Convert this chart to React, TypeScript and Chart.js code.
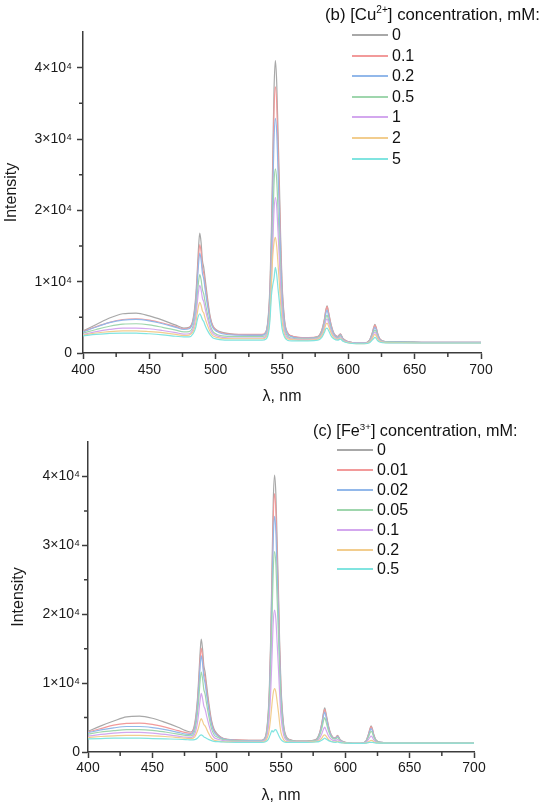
import React, { useEffect, useRef } from "react";
import { Chart, registerables } from "chart.js";

Chart.register(...registerables);

// ---------- data ----------
const wavelengths = [
  400, 410, 420, 430, 440, 450, 460, 470, 476, 480,
  483, 485, 486, 487, 488, 489, 490, 491, 492, 494,
  496, 498, 501, 505, 515, 525, 535, 538, 540, 541,
  542, 543, 544, 545, 546, 547, 548, 549, 550, 552,
  554, 557, 562, 570, 577, 580, 582, 583, 584, 585,
  587, 589, 592, 594, 596, 600, 606, 612, 616, 618,
  619, 620, 621, 622, 624, 628, 640, 660, 680, 700,
];

const cuLabels = ["0", "0.1", "0.2", "0.5", "1", "2", "5"];

const cu0 = [
  3100, 4000, 4900, 5500, 5600, 5200, 4600, 3900, 3500, 3600,
  4800, 8000, 11000, 14500, 16800, 15500, 13000, 12000, 10500, 7500,
  5000, 3800, 3200, 2900, 2600, 2500, 2500, 3000, 6000, 10000,
  17000, 27000, 37000, 41000, 38000, 31000, 24000, 16000, 10000, 4500,
  2900, 2400, 2200, 2100, 2300, 3200, 4800, 6000, 6600, 5800,
  4000, 2800, 2300, 2700, 2000, 1600, 1400, 1400, 1800, 2800,
  3500, 4000, 3600, 2800, 1900, 1600, 1550, 1500, 1500, 1500,
];
const cu01 = [
  3000, 3700, 4300, 4700, 4800, 4600, 4200, 3700, 3400, 3500,
  4600, 7400, 10200, 13200, 15200, 14200, 12000, 11200, 9700, 7000,
  4800, 3700, 3100, 2800, 2600, 2600, 2600, 3000, 5600, 9200,
  15500, 24500, 34000, 37300, 35000, 28500, 22000, 14800, 9400, 4300,
  2900, 2400, 2200, 2150, 2300, 3200, 4700, 5900, 6500, 5700,
  3900, 2800, 2300, 2650, 2000, 1600, 1400, 1400, 1800, 2750,
  3400, 3900, 3500, 2750, 1900, 1600, 1550, 1500, 1500, 1500,
];
const cu02 = [
  2950, 3650, 4250, 4600, 4700, 4500, 4100, 3600, 3300, 3400,
  4400, 7000, 9500, 12200, 14000, 13100, 11200, 10400, 9000, 6500,
  4500, 3500, 3000, 2700, 2500, 2500, 2500, 2900, 5200, 8400,
  14000, 22000, 30000, 32900, 31000, 25500, 19500, 13200, 8400, 4000,
  2700, 2300, 2100, 2100, 2250, 3000, 4400, 5500, 6000, 5300,
  3700, 2700, 2200, 2550, 1950, 1550, 1400, 1400, 1750, 2600,
  3200, 3600, 3300, 2600, 1850, 1600, 1550, 1500, 1500, 1500,
];
const cu05 = [
  2800, 3300, 3750, 4050, 4100, 3950, 3600, 3200, 2950, 3000,
  3800, 5800, 7800, 9800, 11000, 10300, 8900, 8300, 7200, 5300,
  3800, 3000, 2600, 2400, 2300, 2300, 2300, 2600, 4400, 7000,
  11500, 17500, 23800, 25800, 24300, 20000, 15500, 10500, 6800, 3400,
  2400, 2100, 2000, 2000, 2150, 2800, 4000, 4900, 5300, 4700,
  3300, 2500, 2100, 2400, 1850, 1500, 1350, 1350, 1650, 2400,
  2900, 3200, 2950, 2350, 1750, 1550, 1500, 1450, 1450, 1450,
];
const cu1 = [
  2600, 3000, 3300, 3500, 3500, 3400, 3150, 2850, 2650, 2700,
  3400, 5100, 6800, 8500, 9500, 8900, 7700, 7200, 6300, 4700,
  3400, 2700, 2400, 2200, 2100, 2100, 2100, 2400, 3900, 6200,
  10000, 15000, 20000, 21800, 20500, 17000, 13200, 9000, 5900, 3000,
  2200, 2000, 1900, 1900, 2050, 2600, 3700, 4500, 4800, 4300,
  3100, 2400, 2000, 2250, 1800, 1500, 1350, 1350, 1600, 2200,
  2700, 2900, 2700, 2200, 1700, 1500, 1450, 1450, 1450, 1450,
];
const cu2 = [
  2500, 2800, 3000, 3100, 3100, 3000, 2850, 2600, 2450, 2500,
  3000, 4200, 5400, 6500, 7100, 6700, 5900, 5600, 4900, 3800,
  2900, 2400, 2200, 2050, 2000, 2000, 2000, 2200, 3400, 5500,
  9500, 13500, 15500, 16200, 15000, 12500, 9800, 6800, 4500, 2500,
  2000, 1900, 1800, 1800, 1950, 2400, 3300, 4000, 4200, 3800,
  2800, 2200, 1900, 2100, 1700, 1450, 1300, 1300, 1550, 2000,
  2400, 2600, 2400, 2000, 1600, 1450, 1450, 1400, 1400, 1400,
];
const cu5 = [
  2400, 2600, 2750, 2800, 2800, 2700, 2550, 2350, 2250, 2250,
  2700, 3600, 4500, 5200, 5500, 5200, 4700, 4400, 3900, 3100,
  2500, 2100, 1950, 1850, 1800, 1800, 1800, 1950, 3000, 4800,
  8000, 9500, 10500, 12000, 11000, 9000, 7200, 5200, 3500, 2200,
  1800, 1700, 1700, 1700, 1800, 2200, 2900, 3400, 3500, 3200,
  2400, 2000, 1800, 1950, 1650, 1400, 1300, 1300, 1450, 1800,
  2000, 2200, 2050, 1750, 1500, 1400, 1400, 1400, 1400, 1400,
];

const feLabels = ["0", "0.01", "0.02", "0.05", "0.1", "0.2", "0.5"];

const fe0 = [
  3000, 3800, 4500, 5100, 5200, 4900, 4300, 3600, 3100, 2900,
  4200, 7500, 10500, 14000, 16400, 15000, 12600, 11600, 10000, 7000,
  4600, 3300, 2500, 2000, 1750, 1700, 1700, 2300, 5500, 9500,
  16500, 26500, 36500, 40200, 37500, 30500, 23500, 15500, 9500, 4000,
  2300, 1800, 1600, 1600, 1800, 2800, 4500, 5700, 6400, 5600,
  3700, 2500, 2000, 2400, 1800, 1400, 1250, 1250, 1600, 2600,
  3300, 3800, 3400, 2600, 1700, 1400, 1350, 1300, 1300, 1300,
];
const fe001 = [
  2900, 3400, 3900, 4150, 4200, 4000, 3600, 3100, 2800, 2700,
  3900, 7000, 9700, 12900, 15100, 13900, 11700, 10800, 9300, 6500,
  4300, 3100, 2400, 1950, 1750, 1700, 1700, 2200, 5200, 8900,
  15400, 24700, 34000, 37500, 35000, 28500, 22000, 14500, 8900, 3800,
  2200, 1750, 1600, 1600, 1750, 2700, 4400, 5500, 6200, 5400,
  3600, 2450, 2000, 2350, 1750, 1400, 1250, 1250, 1600, 2550,
  3200, 3700, 3300, 2550, 1700, 1400, 1350, 1300, 1300, 1300,
];
const fe002 = [
  2800, 3200, 3500, 3700, 3700, 3550, 3250, 2850, 2600, 2550,
  3600, 6500, 9000, 12000, 14000, 12900, 10900, 10000, 8600, 6000,
  4000, 2900, 2300, 1900, 1700, 1650, 1650, 2100, 4800, 8200,
  14100, 22600, 31000, 34200, 32000, 26000, 20000, 13300, 8200, 3500,
  2100, 1700, 1550, 1550, 1700, 2600, 4100, 5200, 5800, 5100,
  3400, 2350, 1950, 2250, 1700, 1350, 1250, 1250, 1550, 2400,
  3000, 3400, 3100, 2400, 1650, 1400, 1350, 1300, 1300, 1300,
];
const fe005 = [
  2600, 2900, 3100, 3250, 3250, 3150, 2900, 2600, 2400, 2350,
  3100, 5500, 7500, 10000, 11600, 10700, 9100, 8400, 7200, 5100,
  3400, 2500, 2100, 1800, 1650, 1600, 1600, 2000, 4200, 7100,
  12000, 19300, 26500, 29100, 27300, 22200, 17100, 11400, 7000, 3100,
  1950, 1650, 1550, 1550, 1650, 2400, 3600, 4500, 5000, 4400,
  3000, 2200, 1850, 2100, 1650, 1350, 1250, 1250, 1500, 2200,
  2700, 3000, 2800, 2200, 1600, 1350, 1300, 1300, 1300, 1300,
];
const fe01 = [
  2300, 2550, 2750, 2850, 2850, 2750, 2550, 2300, 2150, 2100,
  2600, 4200, 5600, 7300, 8500, 7800, 6700, 6200, 5400, 3900,
  2700, 2100, 1850, 1650, 1550, 1550, 1550, 1850, 3300, 5300,
  8700, 13800, 18900, 20600, 19300, 15800, 12200, 8200, 5100, 2500,
  1750, 1550, 1500, 1500, 1550, 2000, 2800, 3300, 3600, 3200,
  2300, 1850, 1650, 1800, 1550, 1300, 1250, 1250, 1400, 1850,
  2100, 2300, 2150, 1800, 1450, 1300, 1300, 1300, 1300, 1300,
];
const fe02 = [
  2100, 2250, 2350, 2400, 2400, 2350, 2250, 2100, 2000, 1950,
  2200, 3000, 3600, 4400, 4850, 4500, 4000, 3800, 3400, 2600,
  2000, 1700, 1600, 1500, 1450, 1450, 1450, 1650, 2400, 3400,
  5000, 7000, 8600, 9200, 8700, 7300, 5800, 4100, 2800, 1800,
  1500, 1450, 1450, 1450, 1500, 1700, 2100, 2400, 2500, 2300,
  1800, 1550, 1450, 1550, 1400, 1300, 1250, 1250, 1300, 1500,
  1600, 1700, 1650, 1500, 1350, 1300, 1300, 1300, 1300, 1300,
];
const fe05 = [
  1900, 1950, 2000, 2000, 2000, 1950, 1900, 1850, 1800, 1750,
  1800, 2000, 2200, 2400, 2500, 2400, 2200, 2100, 2000, 1800,
  1650, 1550, 1500, 1450, 1400, 1400, 1400, 1500, 1800, 2200,
  2700, 3100, 2900, 3200, 3250, 2900, 2500, 2100, 1800, 1500,
  1400, 1400, 1400, 1400, 1450, 1550, 1750, 1900, 2000, 1900,
  1650, 1500, 1400, 1450, 1350, 1300, 1250, 1250, 1300, 1350,
  1400, 1400, 1400, 1350, 1300, 1300, 1300, 1300, 1300, 1300,
];

const xTickValues = [400, 450, 500, 550, 600, 650, 700];
const xTickLabels = ["400", "450", "500", "550", "600", "650", "700"];
const xMinorTicks = [425, 475, 525, 575, 625, 675];
const yTickValues = [0, 10000, 20000, 30000, 40000];
const yTickLabels = ["0", "1×10⁴", "2×10⁴", "3×10⁴", "4×10⁴"];
const yMinorTicks = [5000, 15000, 25000, 35000];

// ---------- styles ----------
const seriesColors = [
  "#a8a8a8",
  "#f29a9a",
  "#92b8ea",
  "#9fd6ad",
  "#d3a7ee",
  "#f2cd8e",
  "#80e4e0",
];
const AXIS = "#3c3c3c";
const FONT = "'Liberation Sans', Arial, sans-serif";

const minorTicksPlugin = {
  id: "minorTicks",
  afterDraw(chart: any) {
    const { ctx, chartArea, scales } = chart;
    const x = scales.x;
    const y = scales.y;
    ctx.save();
    ctx.strokeStyle = AXIS;
    ctx.lineWidth = 1.5;
    ctx.beginPath();
    for (const v of xMinorTicks) {
      const px = x.getPixelForValue(v);
      ctx.moveTo(px, chartArea.bottom);
      ctx.lineTo(px, chartArea.bottom + 4);
    }
    for (const v of yMinorTicks) {
      const py = y.getPixelForValue(v);
      ctx.moveTo(chartArea.left, py);
      ctx.lineTo(chartArea.left - 4, py);
    }
    ctx.stroke();
    ctx.restore();
  },
};

type Geo = {
  left: number;
  right: number;
  top: number;
  bottom: number;
  yTickPad: number;
  xTickPad: number;
  yTitlePad: number;
  xTitlePad: number;
  xTitleLH: number;
};

function Panel(props: {
  series: number[][];
  labels: string[];
  letter: string;
  ion: string;
  charge: string;
  geo: Geo;
  legend: { titleLeft: number; titleTop: number; titleSize: number; lineLeft: number; rowTop: number; rowStep: number };
}) {
  const ref = useRef<HTMLCanvasElement | null>(null);
  const { series, labels, geo, legend } = props;

  useEffect(() => {
    if (!ref.current) return;
    const W = 550;
    const H = 404;
    const chart = new Chart(ref.current, {
      type: "line",
      data: {
        datasets: series.map((s, i) => ({
          label: labels[i],
          data: wavelengths.map((w, j) => ({ x: w, y: s[j] })),
          borderColor: seriesColors[i],
          borderWidth: 1.2,
          pointRadius: 0,
          fill: false,
          tension: 0.3,
          cubicInterpolationMode: "monotone" as const,
          order: -i,
        })),
      },
      options: {
        responsive: false,
        animation: false,
        devicePixelRatio: window.devicePixelRatio || 1,
        layout: {
          padding: { left: 0, top: geo.top, right: W - geo.right, bottom: 0 },
        },
        plugins: {
          legend: { display: false },
          tooltip: { enabled: false },
        },
        scales: {
          x: {
            type: "linear",
            min: 400,
            max: 700,
            afterBuildTicks: (scale: any) => {
              scale.ticks = xTickValues.map((v) => ({ value: v }));
            },
            afterFit: (scale: any) => {
              scale.height = H - geo.bottom;
            },
            ticks: {
              callback: (_v: any, idx: number) => xTickLabels[idx],
              color: "#1a1a1a",
              font: { family: FONT, size: 14 },
              padding: geo.xTickPad,
              maxRotation: 0,
              autoSkip: false,
            },
            grid: {
              drawOnChartArea: false,
              drawTicks: true,
              tickLength: 6,
              tickColor: AXIS,
              tickWidth: 1.5,
            },
            border: { display: true, color: AXIS, width: 1.5 },
            title: {
              display: true,
              text: "λ, nm",
              color: "#1a1a1a",
              font: { family: FONT, size: 16, lineHeight: geo.xTitleLH },
              padding: { top: 0, bottom: geo.xTitlePad },
            },
          },
          y: {
            type: "linear",
            min: 0,
            max: 45000,
            afterBuildTicks: (scale: any) => {
              scale.ticks = yTickValues.map((v) => ({ value: v }));
            },
            afterFit: (scale: any) => {
              scale.width = geo.left;
            },
            ticks: {
              callback: (_v: any, idx: number) => yTickLabels[idx],
              color: "#1a1a1a",
              font: { family: FONT, size: 14 },
              padding: geo.yTickPad,
              autoSkip: false,
            },
            grid: {
              drawOnChartArea: false,
              drawTicks: true,
              tickLength: 6,
              tickColor: AXIS,
              tickWidth: 1.5,
            },
            border: { display: true, color: AXIS, width: 1.5 },
            title: {
              display: true,
              text: "Intensity",
              color: "#1a1a1a",
              font: { family: FONT, size: 16, lineHeight: 1.2 },
              padding: { top: geo.yTitlePad, bottom: 0 },
            },
          },
        },
      },
      plugins: [minorTicksPlugin],
    } as any);
    return () => chart.destroy();
  }, []);

  return (
    <div style={{ position: "relative", width: 550, height: 404 }}>
      <canvas ref={ref} width={550} height={404} style={{ display: "block" }} />
      <div
        style={{
          position: "absolute",
          left: legend.titleLeft,
          top: legend.titleTop - 10,
          height: 20,
          lineHeight: "20px",
          fontFamily: FONT,
          fontSize: legend.titleSize,
          color: "#111",
          whiteSpace: "nowrap",
        }}
      >
        ({props.letter}) [{props.ion}
        <sup style={{ fontSize: "0.6em", verticalAlign: "0.65em", lineHeight: 0 }}>{props.charge}</sup>] concentration, mM:
      </div>
      {labels.map((lab, i) => (
        <div
          key={lab}
          style={{
            position: "absolute",
            left: legend.lineLeft,
            top: legend.rowTop + i * legend.rowStep - 10,
            height: 20,
            display: "flex",
            alignItems: "center",
            fontFamily: FONT,
            fontSize: 16,
            color: "#111",
            whiteSpace: "nowrap",
          }}
        >
          <span
            style={{
              display: "inline-block",
              width: 36,
              height: 2,
              background: seriesColors[i],
              marginRight: 4,
            }}
          />
          <span>{lab}</span>
        </div>
      ))}
    </div>
  );
}

export default function App() {
  return (
    <div style={{ position: "absolute", left: 0, top: 0, width: 550, height: 808, background: "#fff" }}>
      <Panel
        series={[cu0, cu01, cu02, cu05, cu1, cu2, cu5]}
        labels={cuLabels}
        letter="b"
        ion="Cu"
        charge="2+"
        geo={{ left: 83, right: 481, top: 32, bottom: 353, yTickPad: 5, xTickPad: 3, yTitlePad: 2, xTitlePad: 0, xTitleLH: 0.9 }}
        legend={{ titleLeft: 325, titleTop: 15, titleSize: 16.8, lineLeft: 352, rowTop: 35, rowStep: 20.6 }}
      />
      <Panel
        series={[fe0, fe001, fe002, fe005, fe01, fe02, fe05]}
        labels={feLabels}
        letter="c"
        ion="Fe"
        charge="3+"
        geo={{ left: 88, right: 474, top: 38, bottom: 348, yTickPad: 2, xTickPad: 2, yTitlePad: 9, xTitlePad: 3, xTitleLH: 1.2 }}
        legend={{ titleLeft: 313, titleTop: 26, titleSize: 16.2, lineLeft: 337, rowTop: 46, rowStep: 19.9 }}
      />
    </div>
  );
}
